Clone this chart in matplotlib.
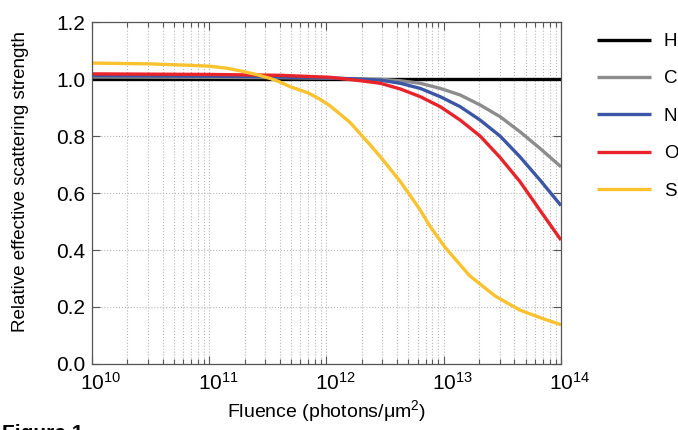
import matplotlib
matplotlib.use('Agg')
import matplotlib.pyplot as plt
import matplotlib.transforms as mtransforms
import numpy as np

plt.rcParams['font.family'] = ['Liberation Sans', 'DejaVu Sans']
plt.rcParams['mathtext.fontset'] = 'custom'
plt.rcParams['mathtext.rm'] = 'Liberation Sans'
plt.rcParams['mathtext.it'] = 'Liberation Sans:italic'
plt.rcParams['mathtext.bf'] = 'Liberation Sans:bold'

logx_H = [10, 14]
H = [1.0, 1.0]

logx_C = [10, 11, 11.5, 12, 12.25, 12.46, 12.63, 12.80, 12.97, 13.14, 13.31, 13.48, 13.65, 13.82, 14.0]
C = [1.007, 1.006, 1.005, 1.003, 1.001, 0.999, 0.994, 0.985, 0.967, 0.944, 0.909, 0.868, 0.815, 0.757, 0.692]

logx_N = [10, 11, 11.5, 12, 12.25, 12.46, 12.63, 12.80, 12.97, 13.14, 13.31, 13.48, 13.65, 13.82, 14.0]
N = [1.012, 1.010, 1.008, 1.004, 1.0, 0.996, 0.985, 0.967, 0.938, 0.903, 0.856, 0.800, 0.727, 0.646, 0.556]

logx_O = [10, 11, 11.6, 12.03, 12.29, 12.46, 12.63, 12.80, 12.97, 13.14, 13.31, 13.48, 13.65, 13.82, 14.0]
O = [1.018, 1.016, 1.013, 1.006, 0.994, 0.985, 0.965, 0.938, 0.903, 0.856, 0.800, 0.725, 0.640, 0.540, 0.435]

logx_S = [10, 10.5, 10.84, 11, 11.15, 11.26, 11.4, 11.52, 11.6, 11.69, 11.84, 11.94, 12.03,
          12.2, 12.37, 12.46, 12.63, 12.8, 12.88, 13.01, 13.22, 13.44, 13.65, 13.86, 14.0]
S = [1.056, 1.053, 1.048, 1.045, 1.038, 1.029, 1.016, 1.002, 0.990, 0.973, 0.952, 0.930, 0.906,
     0.848, 0.770, 0.727, 0.640, 0.540, 0.485, 0.410, 0.310, 0.238, 0.189, 0.157, 0.138]

series = [('H', logx_H, H, '#000000'),
          ('C', logx_C, C, '#8c8c8c'),
          ('N', logx_N, N, '#3a56a5'),
          ('O', logx_O, O, '#e8232a'),
          ('S', logx_S, S, '#f9c22e')]

fig = plt.figure(figsize=(6.78, 4.30), dpi=100)
ax = fig.add_axes([0.1357, 0.1535, 0.6917, 0.7953])

for name, lx, y, col in series:
    ax.plot(10 ** np.array(lx), y, color=col, lw=2.4, label=name, solid_capstyle='butt')

ax.set_xscale('log')
ax.set_xlim(1e10, 1e14)
ax.set_ylim(0, 1.2)
ax.set_yticks(np.arange(0, 1.21, 0.2))
ax.set_yticklabels(['%.1f' % v for v in np.arange(0, 1.21, 0.2)])
ax.set_xticks([1e10, 1e11, 1e12, 1e13, 1e14])
ax.set_xticklabels(['$10^{%d}$' % e for e in [10, 11, 12, 13, 14]])

ax.grid(True, which='major', axis='y', color='#b8b8b8', ls=':', lw=0.8)
ax.grid(True, which='both', axis='x', color='#b8b8b8', ls=':', lw=0.8)

ax.tick_params(which='both', direction='in', top=True, right=True, colors='#555555',
               labelcolor='black', labelsize=15)
ax.tick_params(which='major', length=6, width=0.8)
ax.tick_params(which='minor', length=3.5, width=0.8)
ax.tick_params(axis='x', pad=6)
ax.tick_params(axis='y', pad=5)
for sp in ax.spines.values():
    sp.set_color('#555555')
    sp.set_linewidth(0.9)

# centre the "10" base of each exponent label on its tick
shift = mtransforms.ScaledTranslation(-0.116, 0, fig.dpi_scale_trans)
for lbl in ax.get_xticklabels():
    lbl.set_horizontalalignment('left')
    lbl.set_transform(lbl.get_transform() + shift)

ax.set_xlabel('Fluence (photons/μm$^2$)', fontsize=14, labelpad=3)
ax.set_ylabel('Relative effective scattering strength', fontsize=13.5)
ax.yaxis.set_label_coords(-0.134, 0.535)

ax.legend(loc='upper left', bbox_to_anchor=(1.077, 0.968), frameon=False, fontsize=13.5,
          handlelength=2.85, handletextpad=0.7, labelspacing=1.08, borderaxespad=0,
          borderpad=0)

fig.text(0.003, 0.015, 'Figure 1', fontsize=15, fontweight='bold', va='top')

fig.savefig('out.png', dpi=100)
